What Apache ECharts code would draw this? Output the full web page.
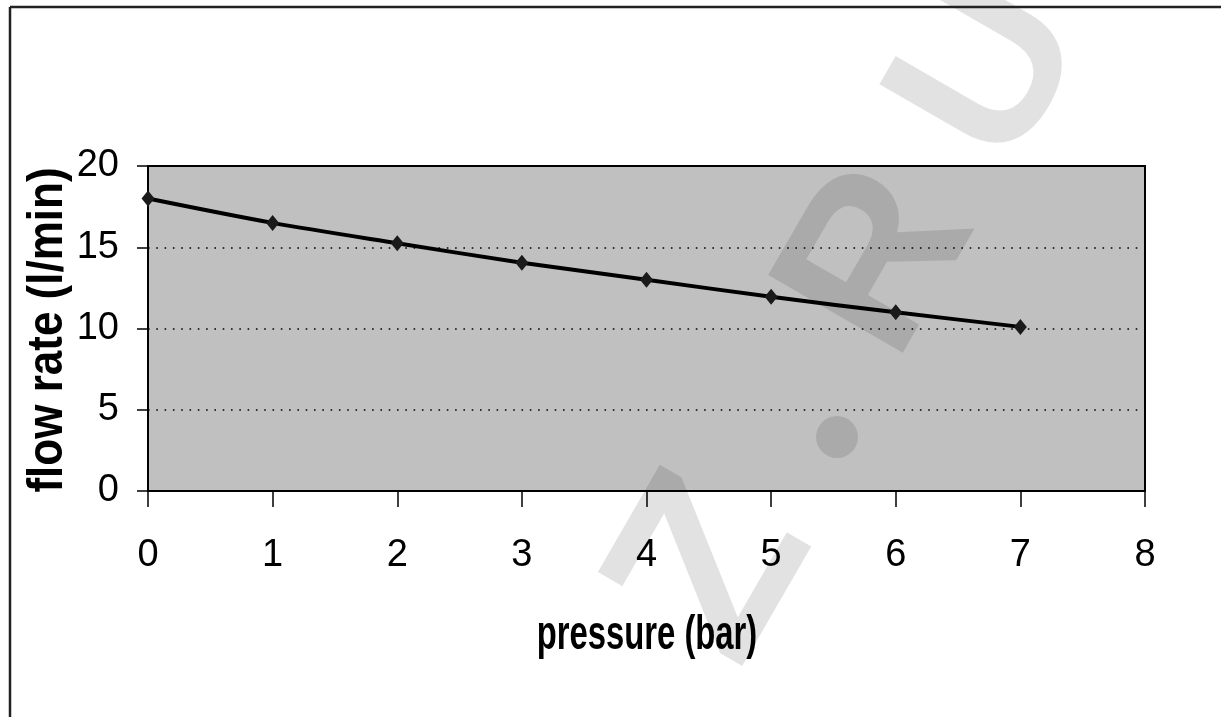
<!DOCTYPE html>
<html>
<head>
<meta charset="utf-8">
<script src="https://cdn.jsdelivr.net/npm/echarts@6/dist/echarts.min.js"></script>
<style>
html,body{margin:0;padding:0;background:#fff;}
#chart{width:1221px;height:717px;}
</style>
</head>
<body>
<div id="chart"></div>
<script>
// Data
var pressure = [0, 1, 2, 3, 4, 5, 6, 7];
var flowRate = [18.0, 16.5, 15.25, 14.05, 13.0, 11.95, 11.0, 10.1];
var xTicks = {min: 0, max: 8, interval: 1};
var yTicks = {min: 0, max: 20, interval: 5};
var xTitle = 'pressure (bar)';
var yTitle = 'flow rate (l/min)';
var watermarkLetters = ['Z', 'R', 'U'];

var chart = echarts.init(document.getElementById('chart'), null, {renderer: 'canvas'});
var points = pressure.map(function (p, i) { return [p, flowRate[i]]; });

var wmColor = 'rgba(0,0,0,0.115)';
var wmRot = Math.PI / 3;
var wmPos = [[717, 572], [882, 264], [994, 72]];
var wmSize = [250, 226, 226];
var wmGraphics = watermarkLetters.map(function (ch, i) {
  return {
    type: 'text', x: wmPos[i][0], y: wmPos[i][1], rotation: wmRot, z: 1, silent: true,
    style: {text: ch, fill: wmColor, font: 'bold ' + wmSize[i] + 'px "Liberation Sans", Arial, sans-serif',
      textAlign: 'center', textVerticalAlign: 'middle'}
  };
});
wmGraphics.push({type: 'circle', shape: {cx: 837, cy: 437, r: 21}, z: 1, silent: true, style: {fill: wmColor}});

var option = {
  backgroundColor: '#ffffff',
  animation: false,
  grid: {left: 148, top: 166, width: 997, height: 325, show: true, backgroundColor: '#c0c0c0',
    borderColor: '#000', borderWidth: 2, z: 0},
  xAxis: {
    type: 'value', min: xTicks.min, max: xTicks.max, interval: xTicks.interval, z: 3,
    axisLine: {show: true, lineStyle: {color: '#000', width: 2}},
    axisTick: {show: true, length: 16, lineStyle: {color: '#000', width: 1.5}},
    axisLabel: {color: '#000', fontSize: 38, fontFamily: '"Liberation Sans", Arial, sans-serif', margin: 46},
    splitLine: {show: false}
  },
  yAxis: {
    type: 'value', min: yTicks.min, max: yTicks.max, interval: yTicks.interval, z: 3,
    axisLine: {show: true, lineStyle: {color: '#000', width: 2}},
    axisTick: {show: true, length: 11, lineStyle: {color: '#000', width: 1.5}},
    axisLabel: {color: '#000', fontSize: 38, fontFamily: '"Liberation Sans", Arial, sans-serif', margin: 29},
    splitLine: {show: true, lineStyle: {color: '#000', width: 1.6, type: [1.6, 6.7]}}
  },
  graphic: [
    {type: 'line', shape: {x1: 10, y1: 7, x2: 1221, y2: 7}, z: 5, style: {stroke: '#222', lineWidth: 2.5}},
    {type: 'line', shape: {x1: 10, y1: 7, x2: 10, y2: 717}, z: 5, style: {stroke: '#222', lineWidth: 2.5}},
    {type: 'text', x: 647, y: 636, z: 5, scaleX: 0.82, scaleY: 1.2,
      style: {text: xTitle, fill: '#000', font: 'bold 40px "Liberation Sans", Arial, sans-serif',
        textAlign: 'center', textVerticalAlign: 'middle'}},
    {type: 'text', x: 48, y: 330, z: 5, rotation: Math.PI / 2, scaleY: 1.12,
      style: {text: yTitle, fill: '#000', font: 'bold 44px "Liberation Sans", Arial, sans-serif',
        textAlign: 'center', textVerticalAlign: 'middle'}}
  ].concat(wmGraphics),
  series: [{
    type: 'line', data: points, smooth: 0.3, z: 4,
    lineStyle: {color: '#000', width: 4},
    symbol: 'diamond', symbolSize: [13, 16],
    itemStyle: {color: '#1a1a1a'}
  }]
};
chart.setOption(option);
</script>
</body>
</html>
